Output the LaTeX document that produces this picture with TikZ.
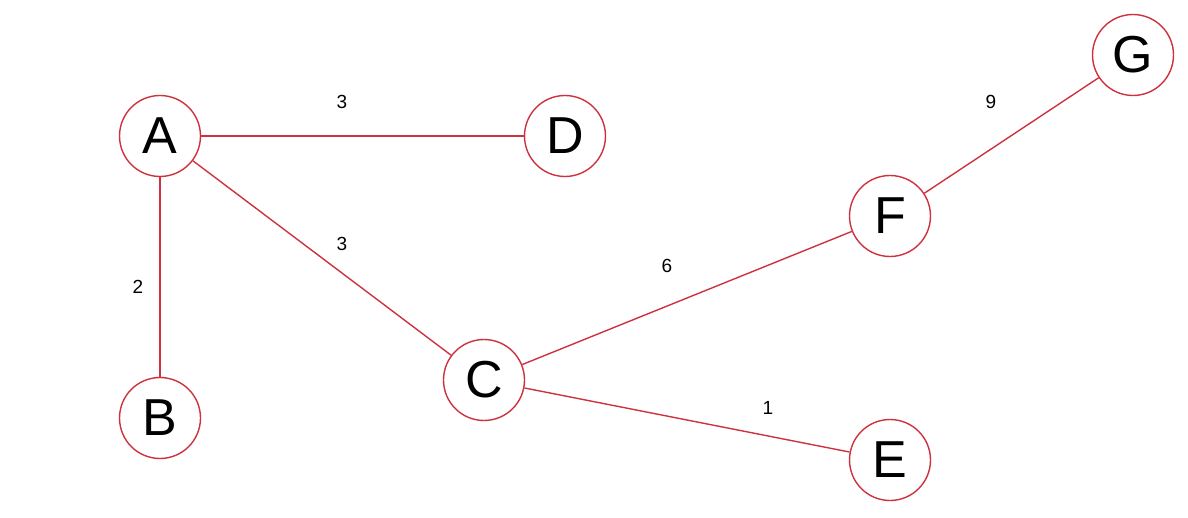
\documentclass[tikz,border=0pt]{standalone}
\usepackage{fontspec}
\setmainfont{Liberation Sans}
\usetikzlibrary{positioning}
\definecolor{EdgeRed}{RGB}{206, 50, 62}

\tikzset{
  vertex/.style={circle, draw=EdgeRed, line width=1.4pt, fill=white, minimum size=81pt, inner sep=0pt, font=\fontsize{52}{52}\selectfont},
  link/.style={EdgeRed, line width=1.4pt},
  weight/.style={font=\fontsize{19}{19}\selectfont, inner sep=0pt}
}

\begin{document}
\begin{tikzpicture}[x=1pt, y=-1pt]
    \useasboundingbox (0,0) rectangle (1188,518);

    % Vertices
    \node[vertex] (A) at (160,136) {A};
    \node[vertex] (B) at (160,418) {B};
    \node[vertex] (C) at (484,380) {C};
    \node[vertex] (D) at (565,136) {D};
    \node[vertex] (E) at (890,460) {E};
    \node[vertex] (F) at (890,216) {F};
    \node[vertex] (G) at (1133,55) {G};

    % Edges
    \draw[link] (A) -- (D);
    \draw[link] (A) -- (B);
    \draw[link] (A) -- (C);
    \draw[link] (C) -- (F);
    \draw[link] (C) -- (E);
    \draw[link] (F) -- (G);

    % Weights
    \node[weight] (wAD) at (342,102) {3};
    \node[weight] (wAB) at (138,287) {2};
    \node[weight] (wAC) at (342,244) {3};
    \node[weight] (wCF) at (667,266) {6};
    \node[weight] (wCE) at (768,408) {1};
    \node[weight] (wFG) at (991,102) {9};
  \end{tikzpicture}
\end{document}
